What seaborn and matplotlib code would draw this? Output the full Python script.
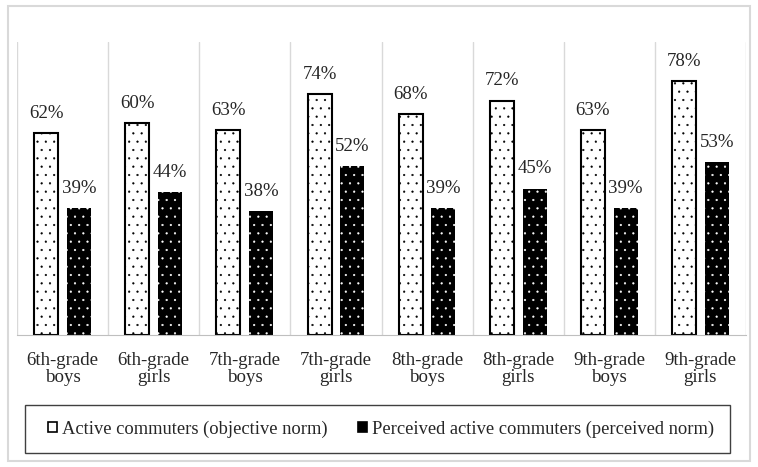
import pandas as pd
import matplotlib.pyplot as plt
import seaborn as sns
from matplotlib.patches import Patch, Rectangle

# categories and values (percent)
groups = ['6th-grade\nboys', '6th-grade\ngirls', '7th-grade\nboys', '7th-grade\ngirls',
          '8th-grade\nboys', '8th-grade\ngirls', '9th-grade\nboys', '9th-grade\ngirls']
objective = [62, 65, 63, 74, 68, 72, 63, 78]
perceived = [39, 44, 38, 52, 39, 45, 39, 53]
# labels as printed on the original chart
objective_labels = ['62%', '60%', '63%', '74%', '68%', '72%', '63%', '78%']
perceived_labels = ['39%', '44%', '38%', '52%', '39%', '45%', '39%', '53%']
series = ['Active commuters (objective norm)', 'Perceived active commuters (perceived norm)']

df = pd.DataFrame({
    'group': groups * 2,
    'value': objective + perceived,
    'series': [series[0]] * len(groups) + [series[1]] * len(groups),
})

sns.set_style('white')
plt.rcParams['font.family'] = ['Liberation Serif', 'DejaVu Serif']
plt.rcParams['hatch.linewidth'] = 0.35
fs = 13.6

fig = plt.figure(figsize=(7.58, 4.67), dpi=100)
ax = fig.add_axes([17 / 758, 1 - 335 / 467, (746 - 17) / 758, (335 - 42) / 467])

sns.barplot(data=df, x='group', y='value', hue='series', ax=ax,
            palette={series[0]: 'white', series[1]: 'black'},
            width=0.72, gap=0.27, edgecolor='black', linewidth=1.5, legend=False)

for bar in ax.containers[0]:
    bar.set_hatch('..')
    bar.set_edgecolor('black')
for bar in ax.containers[1]:
    bar.set_hatch('..')
    bar.set_edgecolor('white')
    bar.set_linewidth(0)

ax.bar_label(ax.containers[0], labels=objective_labels, padding=8, fontsize=fs)
ax.bar_label(ax.containers[1], labels=perceived_labels, padding=8, fontsize=fs)

ax.set_ylim(0, 90)
ax.set_xlim(-0.5, len(groups) - 0.5)
ax.set_yticks([])
ax.set_xlabel('')
ax.set_ylabel('')
ax.set_xticks([i - 0.5 for i in range(len(groups) + 1)], minor=True)
ax.grid(which='minor', axis='x', color='#d9d9d9', linewidth=1)
ax.tick_params(axis='x', which='both', length=0, pad=12, labelsize=fs)
for t in ax.get_xticklabels():
    t.set_linespacing(1.0)
for side in ['top', 'right', 'left']:
    ax.spines[side].set_visible(False)
ax.spines['bottom'].set_color('#bfbfbf')

# legend box
fig.patches.append(Rectangle((25 / 758, 1 - 453 / 467), 705 / 758, 48 / 467,
                             transform=fig.transFigure, fill=False,
                             edgecolor='#404040', linewidth=1))
handles = [Patch(facecolor='white', edgecolor='black', linewidth=1.2),
           Patch(facecolor='black', edgecolor='black', linewidth=1.2)]
fig.legend(handles, series, loc='center', bbox_to_anchor=(381 / 758, 1 - 429 / 467),
           ncol=2, frameon=False, fontsize=13.3, handlelength=0.5, handleheight=0.5,
           handletextpad=0.3, columnspacing=1.6)

# outer frame
fig.patches.append(Rectangle((8 / 758, 1 - 461 / 467), 742 / 758, 455 / 467,
                             transform=fig.transFigure, fill=False,
                             edgecolor='#d9d9d9', linewidth=1.5))

plt.savefig('out.png', dpi=100)
